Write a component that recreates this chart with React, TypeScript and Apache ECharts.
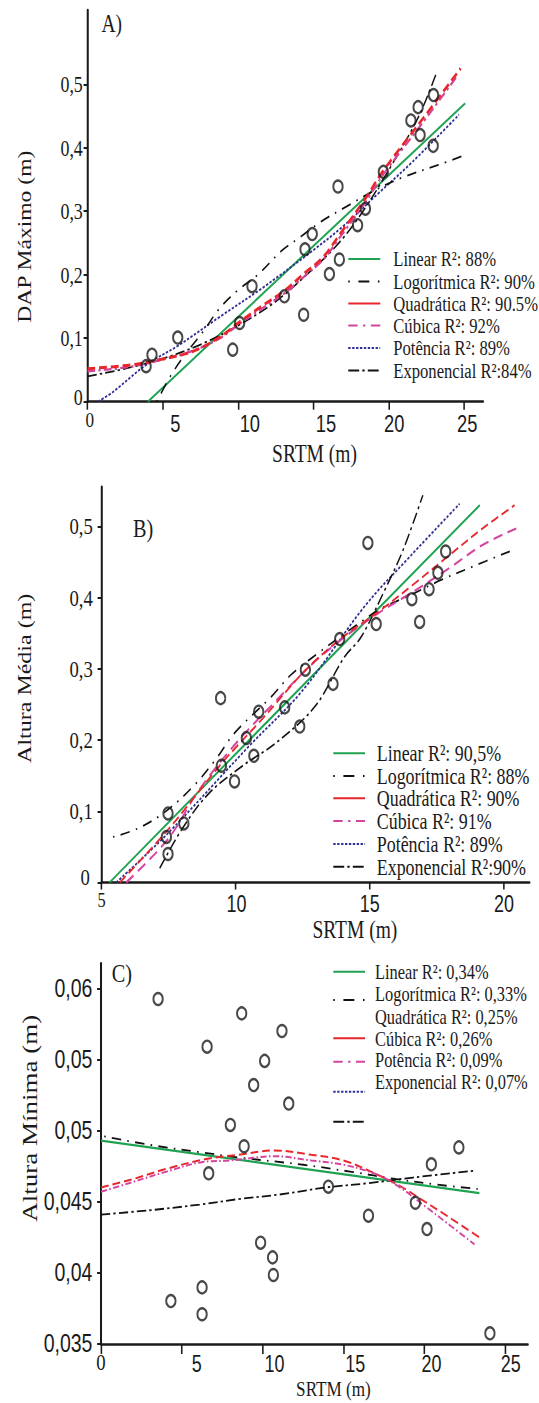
import React, { useEffect, useRef } from "react";
import * as echarts from "echarts";

// The source figure is horizontally compressed; the chart is drawn wider and squeezed with CSS.
const SQUEEZE = 0.78;
const CW = Math.round(539 / SQUEEZE);
const CH = 1403;

const SERIF = '"Liberation Serif", "Times New Roman", serif';
const SANS = '"Liberation Sans", Arial, sans-serif';
const INK = "#1a1a1a";
const GREEN = "#1fa352";
const RED = "#e8262b";
const PINK = "#d4449e";
const BLUE = "#2e2e94";
const BLACK = "#111111";

// ---------------- Panel A ----------------
const aXTicks = [0, 5, 10, 15, 20, 25];
const aXLabels = ["0", "5", "10", "15", "20", "25"];
const aYTicks = [0, 0.1, 0.2, 0.3, 0.4, 0.5];
const aYLabels = ["0", "0,1", "0,2", "0,3", "0,4", "0,5"];
const aLegend = [
  "Linear R²: 88%",
  "Logorítmica R²: 90%",
  "Quadrática R²: 90.5%",
  "Cúbica R²: 92%",
  "Potência R²: 89%",
  "Exponencial R²:84%",
];
const aPoints = [
  [3.89, 0.056], [4.28, 0.074], [5.99, 0.101], [9.64, 0.082], [10.1, 0.124],
  [10.92, 0.182], [13.07, 0.166], [14.35, 0.137], [14.44, 0.24], [14.92, 0.264],
  [16.06, 0.201], [16.72, 0.224], [16.63, 0.339], [17.93, 0.278], [18.45, 0.304],
  [19.64, 0.362], [21.47, 0.443], [21.95, 0.464], [22.08, 0.42], [22.97, 0.483],
  [22.95, 0.403],
];
const aLinear = [[4.01, 0], [25.07, 0.47]];
const aLog = [
  [4.6, 0], [5.5, 0.04], [6.5, 0.075], [7.66, 0.11], [8.8, 0.148], [10, 0.176],
  [11.31, 0.2], [12.9, 0.238], [13.93, 0.256], [15.53, 0.284], [17.24, 0.308],
  [19, 0.332], [20.78, 0.352], [23.29, 0.373], [25.12, 0.389],
];
const aQuad = [
  [0, 0.052], [2.86, 0.058], [4.92, 0.067], [6.97, 0.079], [8.8, 0.102],
  [10.17, 0.127], [11.54, 0.15], [13.14, 0.176], [14.28, 0.2], [15.65, 0.228],
  [16.79, 0.265], [18.39, 0.318], [19.64, 0.364], [22.27, 0.446], [24.77, 0.525],
];
const aCub = [
  [0, 0.048], [2.86, 0.055], [4.92, 0.066], [6.97, 0.08], [8.8, 0.1],
  [10.17, 0.124], [11.54, 0.146], [13.14, 0.172], [14.28, 0.195], [15.65, 0.224],
  [16.79, 0.26], [18.39, 0.312], [19.64, 0.358], [22.27, 0.44], [24.6, 0.515],
];
const aPow = [
  [0.7, 0], [1.72, 0.016], [3.89, 0.058], [6.06, 0.089], [8.8, 0.134],
  [11.54, 0.178], [14.73, 0.234], [17.0, 0.277], [19.3, 0.328], [21.58, 0.378],
  [24.66, 0.452],
];
const aExp = [
  [0, 0.04], [2.5, 0.052], [5, 0.068], [7.5, 0.09], [10, 0.12], [12.5, 0.158],
  [15, 0.21], [16.5, 0.245], [18, 0.29], [20, 0.365], [22, 0.45], [23.2, 0.52],
];

// ---------------- Panel B ----------------
const bXTicks = [5, 10, 15, 20];
const bXLabels = ["5", "10", "15", "20"];
const bYTicks = [0, 0.1, 0.2, 0.3, 0.4, 0.5];
const bYLabels = ["0", "0,1", "0,2", "0,3", "0,4", "0,5"];
const bLegend = [
  "Linear R²: 90,5%",
  "Logorítmica R²: 88%",
  "Quadrática R²: 90%",
  "Cúbica R²: 91%",
  "Potência R²: 89%",
  "Exponencial R²:90%",
];
const bPoints = [
  [14.93, 0.477], [17.83, 0.465], [17.54, 0.435], [17.21, 0.412], [16.57, 0.398],
  [16.86, 0.366], [15.24, 0.363], [13.88, 0.342], [12.6, 0.299], [13.63, 0.279],
  [9.44, 0.259], [11.83, 0.246], [10.86, 0.24], [12.39, 0.219], [10.4, 0.203],
  [10.68, 0.178], [9.47, 0.164], [9.96, 0.142], [7.48, 0.097], [8.07, 0.083],
  [7.42, 0.064], [7.48, 0.04],
];
const bLinear = [[5.3, 0], [19.1, 0.53]];
const bLog = [
  [5.43, 0.064], [6.36, 0.076], [7.4, 0.1], [8.47, 0.137], [9.28, 0.174],
  [9.96, 0.21], [11.33, 0.261], [12.07, 0.292], [13.07, 0.322], [14.3, 0.356],
  [15.43, 0.385], [16.42, 0.402], [17.66, 0.425], [18.66, 0.441], [20.4, 0.468],
];
const bQuad = [
  [5.68, 0], [7.5, 0.075], [9.47, 0.167], [11, 0.23], [12.6, 0.298], [14, 0.345],
  [15.31, 0.38], [16.67, 0.42], [17.91, 0.458], [19.16, 0.496], [20.4, 0.53],
];
const bCub = [
  [5.92, 0], [7.5, 0.062], [8.6, 0.128], [10, 0.195], [11.5, 0.255], [12.8, 0.305],
  [14, 0.343], [15.3, 0.378], [16.6, 0.408], [17.9, 0.44], [19.2, 0.474], [20.5, 0.498],
];
const bPow = [
  [5.55, 0], [7.5, 0.07], [10.46, 0.19], [12.5, 0.27], [14.81, 0.388],
  [16.5, 0.458], [18.35, 0.532],
];
const bExp = [
  [7.17, 0.02], [8.0, 0.075], [9.0, 0.125], [10.3, 0.165], [11.5, 0.196],
  [12.95, 0.247], [14.06, 0.317], [14.68, 0.345], [15.56, 0.411], [16.24, 0.467],
  [16.98, 0.544],
];

// ---------------- Panel C ----------------
const cXTicks = [0, 5, 10, 15, 20, 25];
const cXLabels = ["0", "5", "10", "15", "20", "25"];
const cYTicks = [0.035, 0.04, 0.045, 0.05, 0.055, 0.06];
const cYLabels = ["0,035", "0,04", "0,045", "0,05", "0,05", "0,06"];
const cLegend = [
  "Linear R²: 0,34%",
  "Logorítmica R²: 0,33%",
  "Quadrática R²: 0,25%",
  "Cúbica R²: 0,26%",
  "Potência R²: 0,09%",
  "Exponencial R²: 0,07%",
];
const cPoints = [
  [3.53, 0.05925], [8.7, 0.05824], [11.19, 0.057], [6.56, 0.0559], [10.12, 0.0549],
  [9.44, 0.0532], [11.61, 0.0519], [8.0, 0.0504], [8.85, 0.0489], [6.66, 0.047],
  [14.06, 0.04606], [19.44, 0.04493], [16.54, 0.04402], [20.43, 0.04763],
  [22.13, 0.04882], [20.16, 0.04308], [9.87, 0.04212], [10.61, 0.04109],
  [10.66, 0.03985], [6.25, 0.03898], [4.32, 0.03802], [6.25, 0.03709], [24.05, 0.03575],
];
const cLinear = [[0, 0.0493], [23.4, 0.0456]];
const cLog = [
  [0.2, 0.0496], [3, 0.049], [6, 0.0485], [8.6, 0.0481], [12.5, 0.0476],
  [15.5, 0.0471], [18.2, 0.0466], [20.8, 0.0462], [23.3, 0.0459],
];
const cCub = [
  [0, 0.046], [2, 0.0466], [4, 0.0473], [6.5, 0.048], [8.5, 0.0483], [10.7, 0.0486],
  [13, 0.0483], [15, 0.0479], [17.1, 0.0469], [18.5, 0.0461], [19.9, 0.0451],
  [21.4, 0.044], [23.4, 0.0425],
];
const cPow = [
  [0, 0.0457], [2, 0.0464], [4, 0.0471], [6.3, 0.0478], [8.0, 0.0479], [10.7, 0.0482],
  [13, 0.0479], [15, 0.0476], [17.1, 0.0469], [18.5, 0.046], [19.9, 0.0448],
  [21.4, 0.0435], [23.1, 0.042],
];
const cExp = [
  [0, 0.0441], [3, 0.0444], [6.1, 0.0448], [8.6, 0.0452], [11, 0.0455],
  [13.9, 0.046], [16.5, 0.0463], [19.3, 0.0467], [23.2, 0.0472],
];

// ---------------- helpers ----------------
const DASH_LOG = [2, 8, 12, 8];
const DASH_EXP = [12, 4, 3, 4];
const DOT = [3, 2];

function idxOf(ticks: number[], v: number) {
  return ticks.findIndex((t) => Math.abs(t - v) < 1e-7);
}

function xAxisOpt(gi: number, min: number, max: number, ticks: number[], labels: string[],
  offs: number[], serifSize: number, sansSize: number, padTop: number, margin: number, tickLen: number) {
  const rich: any = {};
  ticks.forEach((_, i) => {
    rich["t" + i] = i === 0
      ? { fontFamily: SERIF, fontSize: serifSize, color: INK, padding: [0, 0, 0, 2 * offs[i]] }
      : { fontFamily: SANS, fontSize: sansSize, color: INK, padding: [padTop, 0, 0, 2 * offs[i]] };
  });
  return {
    type: "value", gridIndex: gi, min, max, interval: 5,
    axisLine: { show: true, onZero: false, lineStyle: { color: INK, width: 2.6 } },
    axisTick: { show: true, customValues: ticks, length: tickLen, lineStyle: { color: INK, width: 2 } },
    splitLine: { show: false },
    axisLabel: {
      customValues: ticks, margin,
      formatter: (v: number) => { const i = idxOf(ticks, v); return i < 0 ? "" : `{t${i}|${labels[i]}}`; },
      rich,
    },
  };
}

function yAxisOpt(gi: number, min: number, max: number, interval: number, ticks: number[], labels: string[],
  family: string, size: number, margin: number, zeroRaise: number, zeroExtra: number) {
  return {
    type: "value", gridIndex: gi, min, max, interval,
    axisLine: { show: true, onZero: false, lineStyle: { color: INK, width: 2.6 } },
    axisTick: { show: true, customValues: ticks, length: 5, lineStyle: { color: INK, width: 2 } },
    splitLine: { show: false },
    axisLabel: {
      customValues: ticks, margin,
      formatter: (v: number) => { const i = idxOf(ticks, v); return i < 0 ? "" : (i === 0 ? `{z|${labels[i]}}` : `{n|${labels[i]}}`); },
      rich: {
        n: { fontFamily: family, fontSize: size, color: INK },
        z: { fontFamily: family, fontSize: size, color: INK, padding: [0, zeroExtra, 2 * zeroRaise, 0] },
      },
    },
  };
}

function curve(gi: number, data: number[][], color: string, width: number, type: any, z = 3) {
  return {
    type: "line", xAxisIndex: gi, yAxisIndex: gi, data, smooth: 0.35, symbol: "none",
    silent: true, z, lineStyle: { color, width, type, cap: "butt" },
  };
}

function dots(gi: number, data: number[][]) {
  return {
    type: "scatter", xAxisIndex: gi, yAxisIndex: gi, data, symbol: "circle", symbolSize: 12,
    silent: true, z: 6,
    itemStyle: { color: "rgba(0,0,0,0)", borderColor: INK, borderWidth: 2.4 },
  };
}

function txt(text: string, x: number, y: number, size: number, opts: any = {}) {
  return {
    type: "text", x, y, rotation: opts.rotation || 0, silent: true,
    style: {
      text, fill: INK, fontSize: size, fontFamily: opts.family || SERIF,
      align: opts.align || "left", verticalAlign: "middle",
    },
  };
}

function seg(x1: number, x2: number, y: number, color: string, dash?: number[], width = 2) {
  return {
    type: "line", silent: true, shape: { x1, y1: y, x2, y2: y },
    style: { stroke: color, lineWidth: width, lineDash: dash || null },
  };
}

function legendBlock(texts: string[], textX: number, rows: number[], size: number) {
  return texts.map((t, i) => txt(t, textX, rows[i], size));
}

function buildOption() {
  // legend geometry (chart coordinates)
  const aRows = [259, 281.5, 303.5, 325.5, 348, 370.5];
  const bRows = [753.3, 776, 798.3, 821, 844, 866.7];
  const cRows = [971.7, 993.3, 1016.7, 1038.3, 1060, 1081.7];
  const aL = [446.5, 487.5];
  const bL = [427.3, 468];
  const cL = [427.3, 468];

  const graphic: any[] = [
    txt("A)", 130, 23.3, 25),
    txt("B)", 170.5, 528.3, 26),
    txt("C)", 143.2, 973.3, 26),
    txt("DAP Máximo (m)", 31.9, 236.7, 23.6, { rotation: Math.PI / 2, align: "center" }),
    txt("Altura Média (m)", 31.9, 678.3, 24, { rotation: Math.PI / 2, align: "center" }),
    txt("Altura Mínima (m)", 37.5, 1118.3, 27, { rotation: Math.PI / 2, align: "center" }),
    txt("SRTM (m)", 403.2, 454, 25, { align: "center" }),
    txt("SRTM (m)", 455, 930, 25, { align: "center" }),
    txt("SRTM (m)", 427.5, 1388.5, 22, { align: "center" }),
    // legend A
    ...legendBlock(aLegend, 504.2, aRows, 21.3),
    seg(aL[0], aL[1], aRows[0], GREEN),
    seg(aL[0], aL[1], aRows[1], BLACK, [2, 11, 14, 11]),
    seg(aL[0], aL[1], aRows[2], RED),
    seg(aL[0], aL[1], aRows[3], PINK, [12, 7, 3, 7]),
    seg(aL[0], aL[1], aRows[4], BLUE, DOT),
    seg(aL[0], aL[1], aRows[5], BLACK, [14, 4, 3, 4]),
    // legend B
    ...legendBlock(bLegend, 483, bRows, 23),
    seg(bL[0], bL[1], bRows[0], GREEN),
    seg(bL[0], bL[1], bRows[1], BLACK, [2, 11, 14, 11]),
    seg(bL[0], bL[1], bRows[2], RED),
    seg(bL[0], bL[1], bRows[3], PINK, [12, 7, 3, 7]),
    seg(bL[0], bL[1], bRows[4], BLUE, DOT),
    seg(bL[0], bL[1], bRows[5], BLACK, [14, 4, 3, 4]),
    // legend C (symbols sit at their own heights, as in the source)
    ...legendBlock(cLegend, 480.8, cRows, 21),
    seg(cL[0], cL[1], 971.7, GREEN),
    seg(cL[0], cL[1], 1000, BLACK, [2, 11, 14, 11]),
    seg(cL[0], cL[1], 1038.3, RED),
    seg(cL[0], cL[1], 1061.7, PINK, [12, 7, 3, 7]),
    seg(cL[0], cL[1], 1091.7, BLUE, DOT),
    seg(cL[0], cL[1], 1121.7, BLACK, [14, 4, 3, 4]),
  ];

  return {
    animation: false,
    backgroundColor: "#ffffff",
    grid: [
      { left: 112.2, top: 10, width: 507.1, height: 391.7, outerBoundsMode: "none" },
      { left: 130.1, top: 486.7, width: 548.6, height: 395.8, outerBoundsMode: "none" },
      { left: 129.5, top: 963.3, width: 547.1, height: 380.7, outerBoundsMode: "none" },
    ],
    xAxis: [
      xAxisOpt(0, 0, 26.26, aXTicks, aXLabels, [3, 16, 15, 16, 7, 4], 22, 23.5, 4, 6, 8),
      xAxisOpt(1, 5, 20.95, bXTicks, bXLabels, [0, 1, 0, 0], 21, 23, 3, 7, 7),
      xAxisOpt(2, 0, 26.39, cXTicks, cXLabels, [0, 19, 15, 15, 9, 7], 24, 23, 2, 6, 10),
    ],
    yAxis: [
      yAxisOpt(0, 0, 0.617, 0.1, aYTicks, aYLabels, SERIF, 23, 6, 5, 0),
      yAxisOpt(1, 0, 0.556, 0.1, bYTicks, bYLabels, SERIF, 24, 11, 5, 4),
      yAxisOpt(2, 0.035, 0.06176, 0.005, cYTicks, cYLabels, SANS, 25, 11, 0, 0),
    ],
    series: [
      // A
      curve(0, aLinear, GREEN, 2.2, "solid"),
      curve(0, aPow, BLUE, 2, DOT),
      curve(0, aLog, BLACK, 1.8, DASH_LOG),
      curve(0, aExp, BLACK, 1.8, DASH_EXP),
      curve(0, aCub, PINK, 2.4, [10, 4, 3, 4], 4),
      curve(0, aQuad, RED, 3, [10, 5], 5),
      dots(0, aPoints),
      // B
      curve(1, bLinear, GREEN, 2.2, "solid"),
      curve(1, bPow, BLUE, 2, DOT),
      curve(1, bLog, BLACK, 1.8, DASH_LOG),
      curve(1, bExp, BLACK, 1.8, DASH_EXP),
      curve(1, bCub, PINK, 2.2, [12, 7], 4),
      curve(1, bQuad, RED, 2, [10, 5], 5),
      dots(1, bPoints),
      // C
      curve(2, cLinear, GREEN, 2.2, "solid"),
      curve(2, cLog, BLACK, 1.8, DASH_LOG),
      curve(2, cExp, BLACK, 1.8, DASH_EXP),
      curve(2, cCub, RED, 2, [10, 5], 4),
      curve(2, cPow, PINK, 2, [8, 3, 2, 3], 5),
      dots(2, cPoints),
    ],
    graphic,
  };
}

export default function App() {
  const ref = useRef<HTMLDivElement>(null);
  useEffect(() => {
    if (!ref.current) return;
    const chart = echarts.init(ref.current, null, { renderer: "svg", width: CW, height: CH });
    chart.setOption(buildOption() as any);
    return () => chart.dispose();
  }, []);
  return (
    <div style={{ position: "absolute", left: 0, top: 0, width: 539, height: CH, overflow: "hidden", background: "#fff" }}>
      <div
        ref={ref}
        style={{ width: CW, height: CH, transform: `scaleX(${SQUEEZE})`, transformOrigin: "0 0" }}
      />
    </div>
  );
}
